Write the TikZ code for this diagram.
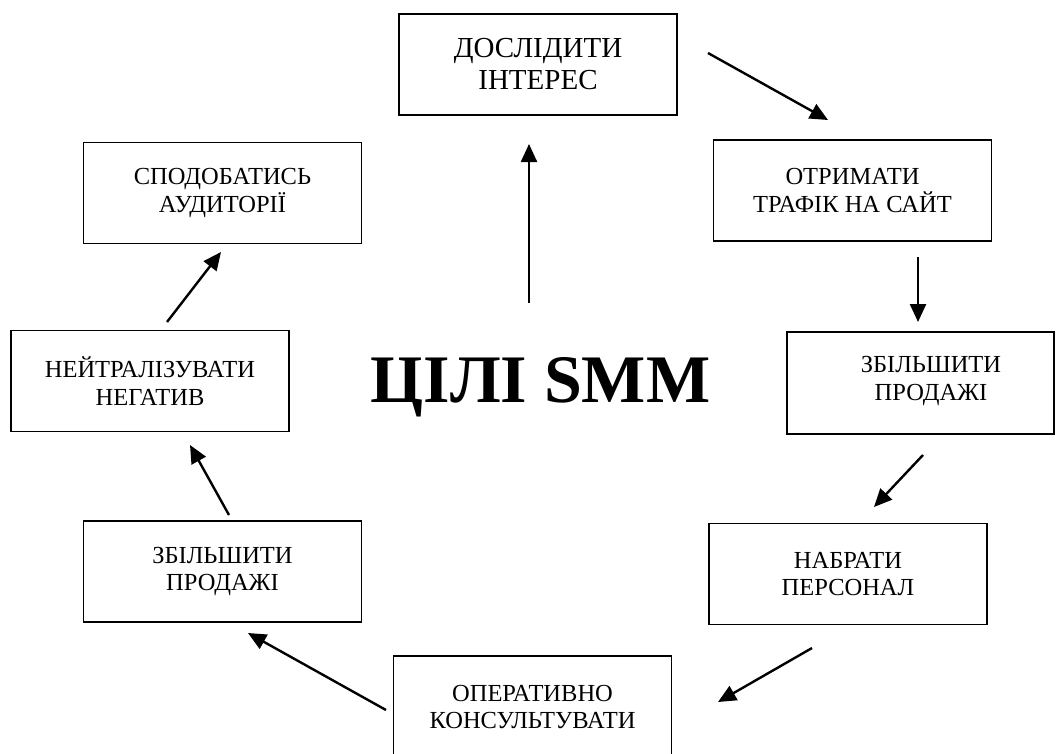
\documentclass[tikz,border=0pt]{standalone}
\usepackage{fontspec}
\setmainfont{Liberation Serif}
\usetikzlibrary{arrows.meta}
\begin{document}
\begin{tikzpicture}[x=1pt,y=-1pt,
  goal/.style={draw=black, line width=1.6pt, minimum width=278pt, minimum height=101pt, inner sep=0pt, align=center, font=\fontsize{24.5}{27.5}\selectfont},
  plainbox/.style={draw=black, line width=1.6pt, minimum width=267pt, minimum height=102pt, inner sep=0pt},
  boxtext/.style={align=center, inner sep=0pt, font=\fontsize{24.5}{27.5}\selectfont},
  arr/.style={line width=2.4pt, -{Triangle[length=18pt,width=16pt]}}]
\useasboundingbox (0,0) rectangle (1056,753);
% boxes
\node[goal, font=\fontsize{29}{32}\selectfont] (b1) at (538,64.5) {ДОСЛІДИТИ\\ІНТЕРЕС};
\node[goal] (b2) at (852.5,190.5) {ОТРИМАТИ\\ТРАФІК НА САЙТ};
\node[plainbox] (b3) at (920.5,383) {};
\node[boxtext] (t3) at (931,381) {ЗБІЛЬШИТИ\\ПРОДАЖІ};
\node[goal] (b4) at (848,574) {НАБРАТИ\\ПЕРСОНАЛ};
\node[goal, minimum height=102pt] (b5) at (532.5,707) {ОПЕРАТИВНО\\КОНСУЛЬТУВАТИ};
\node[goal] (b6) at (222.5,571.5) {ЗБІЛЬШИТИ\\ПРОДАЖІ};
\node[goal] (b7) at (150,381) {НЕЙТРАЛІЗУВАТИ\\НЕГАТИВ};
\node[goal] (b8) at (222.5,193) {СПОДОБАТИСЬ\\АУДИТОРІЇ};
% title
\node[anchor=base, inner sep=0pt, font=\fontsize{68}{70}\selectfont\bfseries] (title) at (540.5,402) {ЦІЛІ SMM};
% arrow end points
\coordinate (a1s) at (708,53);  \coordinate (a1e) at (828,120);
\coordinate (a2s) at (918,257); \coordinate (a2e) at (918,322);
\coordinate (a3s) at (923,455); \coordinate (a3e) at (874,507);
\coordinate (a4s) at (812,648); \coordinate (a4e) at (718,702);
\coordinate (a5s) at (386,710); \coordinate (a5e) at (248,633);
\coordinate (a6s) at (229,515); \coordinate (a6e) at (190,445);
\coordinate (a7s) at (167,322); \coordinate (a7e) at (221,252);
\coordinate (a8s) at (529,303); \coordinate (a8e) at (529,144);
\draw[arr] (a1s) -- (a1e);
\draw[arr] (a2s) -- (a2e);
\draw[arr] (a3s) -- (a3e);
\draw[arr] (a4s) -- (a4e);
\draw[arr] (a5s) -- (a5e);
\draw[arr] (a6s) -- (a6e);
\draw[arr] (a7s) -- (a7e);
\draw[arr] (a8s) -- (a8e);
\end{tikzpicture}
\end{document}
